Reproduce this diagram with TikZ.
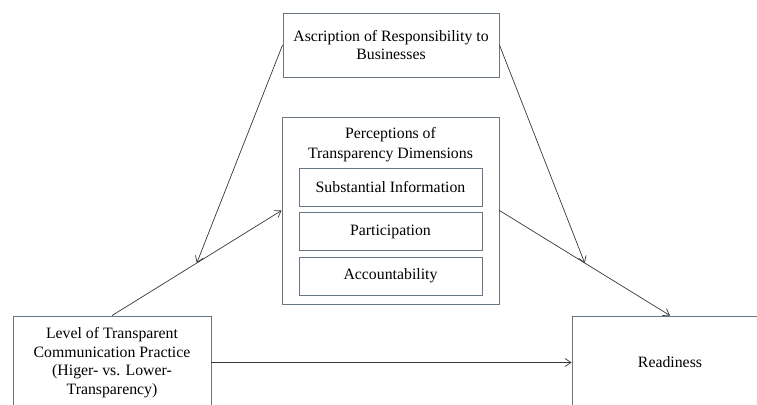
\documentclass[tikz,border=0pt]{standalone}
\usepackage{fontspec}
\setmainfont{Liberation Serif}
\usetikzlibrary{arrows.meta,calc}

\definecolor{boxline}{RGB}{105,118,132}
\definecolor{arrline}{RGB}{55,55,55}

\tikzset{
    varbox/.style={draw=boxline, line width=0.9pt, rectangle, align=center,
        inner sep=2pt, font=\fontsize{15.8}{18.5}\selectfont},
    dimbox/.style={varbox, minimum width=183pt, minimum height=38pt},
    path/.style={draw=arrline, line width=0.7pt, -{Straight Barb[length=6pt,width=8pt]}}
}

\begin{document}
\begin{tikzpicture}[x=1pt,y=-1pt]

    \useasboundingbox (0,0) rectangle (757,404);
    \clip (0,0) rectangle (757,404);

    % Variables
    \node[varbox, minimum width=216pt, minimum height=64pt] (resp) at (391,45)
        {Ascription of Responsibility to\\Businesses};
    \node[varbox, minimum width=217pt, minimum height=187pt] (percep) at (390.5,210.5) {};
    \node[font=\fontsize{15.8}{20}\selectfont, align=center] (title) at (390.5,145)
        {Perceptions of\\Transparency Dimensions};
    \node[varbox, minimum width=198pt, minimum height=93pt] (level) at (112,362.5)
        {Level of Transparent\\Communication Practice\\(Higer- vs. Lower-\\Transparency)};
    \node[varbox, minimum width=196pt, minimum height=93pt] (ready) at (670,362.5)
        {Readiness};

    % Dimensions
    \node[dimbox] (subst) at (390.5,187.5) {Substantial Information};
    \node[dimbox] (part) at (390.5,231.5) {Participation};
    \node[dimbox] (acct) at (390.5,276) {Accountability};

    % Paths
    \coordinate (m1) at ($(level.north)!0.5!(percep.west)$);
    \coordinate (m2) at ($(percep.east)!0.5!(ready.north)$);
    \draw[path] (level.north) -- (percep.west);
    \draw[path] (percep.east) -- (ready.north);
    \draw[path] (resp.west) -- (m1);
    \draw[path] (resp.east) -- (m2);
    \draw[path] (level.east) -- (ready.west);

\end{tikzpicture}
\end{document}
